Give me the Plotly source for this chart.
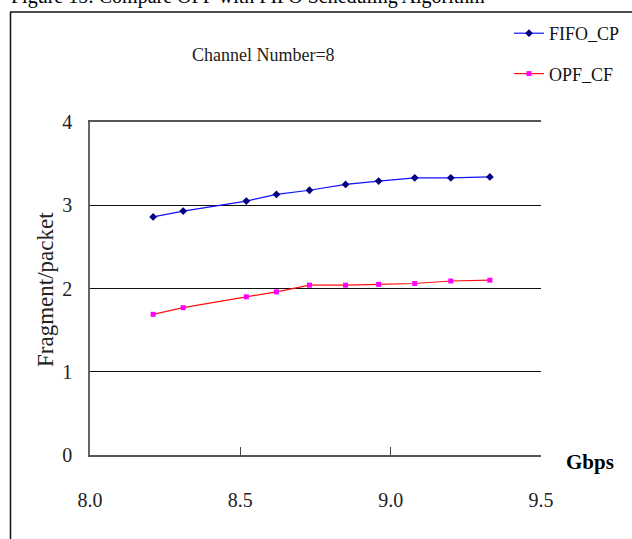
import plotly.graph_objects as go

# Data
x_gbps = [8.21, 8.31, 8.52, 8.62, 8.73, 8.85, 8.96, 9.08, 9.20, 9.33]
fifo_cp = [2.86, 2.93, 3.05, 3.13, 3.18, 3.25, 3.29, 3.33, 3.33, 3.34]
opf_cf = [1.69, 1.77, 1.90, 1.96, 2.04, 2.04, 2.05, 2.06, 2.09, 2.10]
x_ticks = [8.0, 8.5, 9.0, 9.5]
x_ticktext = ["8.0", "8.5", "9.0", "9.5"]
y_ticks = [0, 1, 2, 3, 4]

W, H = 632, 539
L, R, T, B = 90, 91, 122, 84
pw, ph = W - L - R, H - T - B

def px_x(p):
    return (p - L) / pw

def px_y(p):
    return (H - B - p) / ph

FONT = "Liberation Serif, Times New Roman, serif"

fig = go.Figure()
fig.add_trace(go.Scatter(
    x=x_gbps, y=fifo_cp, name="FIFO_CP", mode="lines+markers",
    line=dict(color="#1010ff", width=1.2),
    marker=dict(symbol="diamond", size=6, color="#000080"),
    legendgroup="a",
))
fig.add_trace(go.Scatter(
    x=x_gbps, y=opf_cf, name="OPF_CF", mode="lines+markers",
    line=dict(color="#ff1010", width=1.2),
    marker=dict(symbol="square", size=5, color="#ff00ff"),
    legendgroup="b",
))

fig.update_layout(
    width=W, height=H,
    margin=dict(l=L, r=R, t=T, b=B, autoexpand=False),
    paper_bgcolor="white", plot_bgcolor="white",
    font=dict(family=FONT, color="#222", size=18),
    showlegend=True,
    legend=dict(
        x=px_x(509), y=px_y(15), xanchor="left", yanchor="top",
        bgcolor="rgba(0,0,0,0)", font=dict(size=18, family=FONT, color="#111"),
        traceorder="grouped", tracegroupgap=14, itemwidth=30,
    ),
    xaxis=dict(
        range=[8.0, 9.5], tickvals=x_ticks, ticktext=x_ticktext,
        showgrid=False, zeroline=False,
        showline=True, linecolor="#555", linewidth=1.5, mirror=True,
        ticks="inside", ticklen=8, tickcolor="#444", tickwidth=1,
        tickfont=dict(size=20, family=FONT, color="#222"),
        ticklabelstandoff=26,
        fixedrange=True,
    ),
    yaxis=dict(
        range=[0, 4], tickvals=y_ticks,
        showgrid=True, gridcolor="#111", gridwidth=1,
        zeroline=False,
        showline=True, linecolor="#666", linewidth=1.5,
        ticks="", tickfont=dict(size=20, family=FONT, color="#222"),
        ticklabelstandoff=12,
        fixedrange=True,
    ),
    annotations=[
        dict(text="Figure 15: Compare OPF with FIFO Scheduling Algorithm",
             xref="paper", yref="paper", x=px_x(248), y=px_y(10),
             xanchor="center", yanchor="bottom", showarrow=False,
             font=dict(size=20, family=FONT, color="#000")),
        dict(text="Channel Number=8",
             xref="paper", yref="paper", x=px_x(263), y=px_y(55),
             xanchor="center", yanchor="middle", showarrow=False,
             font=dict(size=18, family=FONT, color="#222")),
        dict(text="Fragment/packet", textangle=-90,
             xref="paper", yref="paper", x=px_x(45), y=px_y(290),
             xanchor="center", yanchor="middle", showarrow=False,
             font=dict(size=23, family=FONT, color="#222")),
        dict(text="<b>Gbps</b>",
             xref="paper", yref="paper", x=px_x(590), y=px_y(462),
             xanchor="center", yanchor="middle", showarrow=False,
             font=dict(size=21, family=FONT, color="#000")),
    ],
    shapes=[
        dict(type="line", xref="paper", yref="paper",
             x0=px_x(10), x1=px_x(640), y0=px_y(12), y1=px_y(12),
             line=dict(color="#111", width=1.5)),
        dict(type="line", xref="paper", yref="paper",
             x0=px_x(10.5), x1=px_x(10.5), y0=px_y(12), y1=px_y(545),
             line=dict(color="#111", width=1.5)),
    ],
)

fig.write_html("out.html")
